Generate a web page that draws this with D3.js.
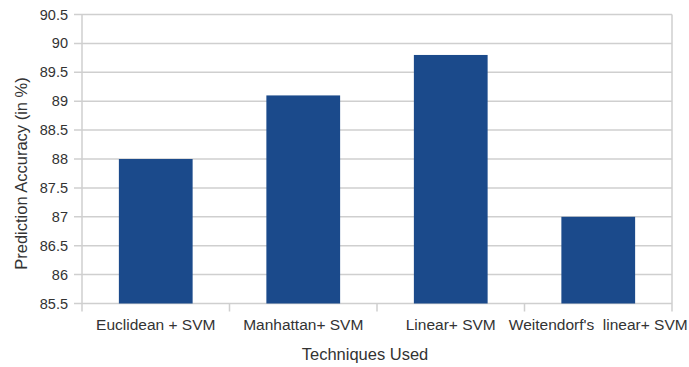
<!DOCTYPE html>
<html><head><meta charset="utf-8">
<script src="https://cdn.jsdelivr.net/npm/d3@7"></script>
<style>body{margin:0;background:#fff}svg{display:block}</style>
</head><body>
<svg id="c" width="689" height="367"></svg>
<script>
const categories = ["Euclidean + SVM", "Manhattan+ SVM", "Linear+ SVM", "Weitendorf's  linear+ SVM"];
const values = [88.0, 89.1, 89.8, 87.0];
const yTicks = [85.5, 86, 86.5, 87, 87.5, 88, 88.5, 89, 89.5, 90, 90.5];
const yTitle = "Prediction Accuracy (in %)";
const xTitle = "Techniques Used";

const svg = d3.select("#c");
const m = {l: 82, r: 17, t: 14.5, b: 63.5};
const W = 689, H = 367;
const x = d3.scaleBand().domain(categories).range([m.l, W - m.r]).paddingInner(0.5).paddingOuter(0.25);
const y = d3.scaleLinear().domain([85.5, 90.5]).range([H - m.b, m.t]);
const gridC = "#cfcfcf", txtC = "#333";
const font = "Liberation Sans, Arial, sans-serif";

// gridlines
svg.append("g").selectAll("line").data(yTicks).join("line")
  .attr("x1", m.l - 8).attr("x2", W - m.r)
  .attr("y1", d => y(d)).attr("y2", d => y(d))
  .attr("stroke", gridC).attr("stroke-width", 1.5);

// left and right axis lines
svg.append("line").attr("x1", m.l).attr("x2", m.l).attr("y1", m.t).attr("y2", H - m.b + 8)
  .attr("stroke", gridC).attr("stroke-width", 1.5);
svg.append("line").attr("x1", W - m.r).attr("x2", W - m.r).attr("y1", m.t).attr("y2", H - m.b + 8)
  .attr("stroke", gridC).attr("stroke-width", 1.5);

// category separator ticks
const step = x.step();
const bounds = categories.slice(1).map(c => x(c) - step * 0.25);
svg.append("g").selectAll("line").data(bounds).join("line")
  .attr("x1", d => d).attr("x2", d => d).attr("y1", H - m.b).attr("y2", H - m.b + 8)
  .attr("stroke", gridC).attr("stroke-width", 1.5);

// bars
svg.append("g").selectAll("rect").data(values).join("rect")
  .attr("x", (d, i) => x(categories[i]))
  .attr("width", x.bandwidth())
  .attr("y", d => y(d))
  .attr("height", d => y(85.5) - y(d))
  .attr("fill", "#1b4a8b");

// y tick labels
svg.append("g").selectAll("text").data(yTicks).join("text")
  .attr("x", 68).attr("y", d => y(d)).attr("dy", "0.35em")
  .attr("text-anchor", "end").attr("font-family", font).attr("font-size", 14.5)
  .attr("fill", txtC).text(d => d);

// x labels
svg.append("g").selectAll("text").data(categories).join("text")
  .attr("x", d => x(d) + x.bandwidth() / 2).attr("y", 330)
  .attr("text-anchor", "middle").attr("font-family", font).attr("font-size", 15.5)
  .attr("fill", txtC).style("white-space", "pre").text(d => d);

// titles
svg.append("text").attr("x", 365).attr("y", 360).attr("text-anchor", "middle")
  .attr("font-family", font).attr("font-size", 16.5).attr("fill", txtC).text(xTitle);
svg.append("text").attr("transform", "translate(27,173.5) rotate(-90)")
  .attr("text-anchor", "middle").attr("font-family", font).attr("font-size", 16.5)
  .attr("fill", txtC).text(yTitle);
</script>
</body></html>
